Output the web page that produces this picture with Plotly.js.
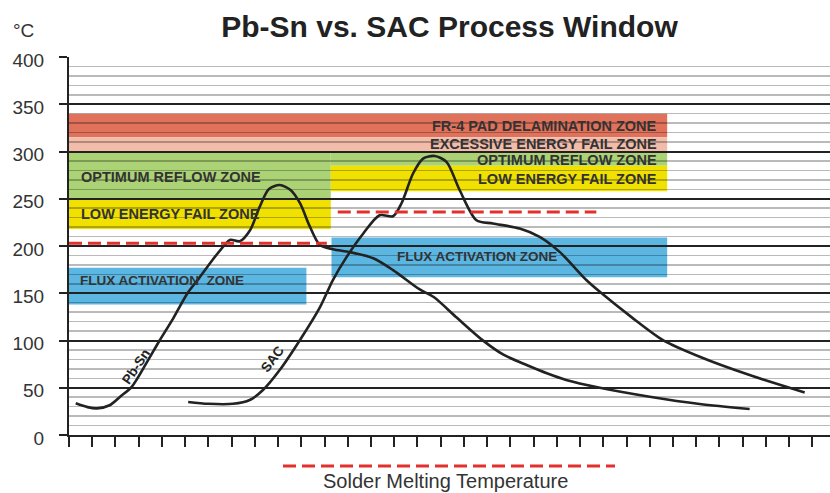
<!DOCTYPE html>
<html><head><meta charset="utf-8">
<script src="https://cdn.plot.ly/plotly-3.0.1.min.js"></script>
<style>html,body{margin:0;padding:0;background:#fff}#chart{width:830px;height:493px}</style>
</head><body><div id="chart"></div>
<script>
// ---- DATA ----
const pbsnX = [0.29, 0.8, 1.2, 1.75, 2.2, 2.7, 3.33, 3.9, 4.5, 5.1, 5.6, 6.2, 6.7, 6.95, 7.35, 7.8, 8.2, 8.6, 9.07, 9.55, 9.95, 10.36, 10.8, 11.36, 12.1, 13.1, 13.95, 15.1, 15.7, 16.7, 17.8, 18.7, 19.7, 20.6, 21.4, 22.85, 25.0, 27.15, 29.3];
const pbsnY = [33.5, 29.5, 28.2, 31.5, 40.5, 51, 76, 100, 124, 150, 166, 186, 201, 206.5, 205, 217, 241, 260, 264.5, 259, 245, 221, 201, 196.6, 193.5, 187, 174.5, 154, 146, 124, 100.4, 85, 74, 65, 58.2, 50, 40.5, 32.8, 27.5];
const sacX = [5.13, 6.0, 7.06, 7.78, 8.35, 9.07, 9.93, 10.8, 11.36, 11.94, 12.66, 13.37, 13.95, 14.31, 14.81, 15.24, 15.74, 16.25, 16.82, 17.54, 18.25, 19.4, 20.26, 21.12, 22.27, 22.85, 24.2, 25.57, 27.15, 29.3, 31.67];
const sacY = [35, 33, 33, 37, 47.6, 68.7, 100, 135, 164, 188, 213, 232.6, 231.5, 245, 276.7, 292.5, 295.3, 289, 259, 227.3, 223.8, 218.5, 209.7, 193.8, 164, 151.5, 125, 100.4, 82.8, 63.4, 45];
const curveNames = ['Pb-Sn', 'SAC'];

const meltAlloys = ['Pb-Sn', 'SAC'];
const meltTemp = [203, 236];
const meltFrom = [0, 11.57];
const meltTo = [11.1, 22.7];

const zoneNames = ['FR-4 PAD DELAMINATION ZONE', 'EXCESSIVE ENERGY FAIL ZONE', 'OPTIMUM REFLOW ZONE', 'OPTIMUM REFLOW ZONE', 'LOW ENERGY FAIL ZONE', 'LOW ENERGY FAIL ZONE', 'FLUX ACTIVATION ZONE', 'FLUX ACTIVATION ZONE'];
const zoneKind = ['delam', 'excess', 'optimum', 'optimum', 'low', 'low', 'flux', 'flux'];
const zoneFrom = [0, 0, 0, 11.27, 0, 11.27, 0, 11.3];
const zoneTo = [25.75, 25.75, 11.27, 25.75, 11.27, 25.75, 10.22, 25.75];
const zoneLow = [315, 300, 250, 285, 218, 258, 138, 167];
const zoneHigh = [340, 315, 300, 300, 250, 285, 177, 209];

const yTickVals = [0, 50, 100, 150, 200, 250, 300, 350, 400];
const yTickText = ['0', '50', '100', '150', '200', '250', '300', '350', '400'];

// ---- STYLE ----
const FONT = 'Liberation Sans, Arial, Helvetica, sans-serif';
const zoneColor = {delam: '#e0715a', excess: '#f1bcaa', optimum: '#abd375', low: '#f0e100', flux: '#5cb6e2'};
const INK = '#222';
const TXT = '#333';

// plot geometry (pixels) for placing outside-of-plot items
const W = 830, H = 493, L = 69, R = 0, T = 57, B = 58;
const pw = W - L - R, ph = H - T - B;
const px2paperX = p => (p - L) / pw;
const px2paperY = p => (H - B - p) / ph;

const traces = [];
traces.push({x: pbsnX, y: pbsnY, name: curveNames[0], type: 'scatter', mode: 'lines',
  line: {color: INK, width: 2.6, shape: 'spline', smoothing: 0.8}, hoverinfo: 'skip'});
traces.push({x: sacX, y: sacY, name: curveNames[1], type: 'scatter', mode: 'lines',
  line: {color: INK, width: 2.6, shape: 'spline', smoothing: 0.8}, hoverinfo: 'skip'});
meltAlloys.forEach((a, i) => {
  traces.push({x: [meltFrom[i], meltTo[i]], y: [meltTemp[i], meltTemp[i]], name: a + ' melting',
    type: 'scatter', mode: 'lines', line: {color: '#e2302d', width: 3, dash: '13px,6px'}, hoverinfo: 'skip'});
});

const shapes = zoneNames.map((n, i) => ({
  type: 'rect', xref: 'x', yref: 'y', x0: zoneFrom[i], x1: zoneTo[i], y0: zoneLow[i], y1: zoneHigh[i],
  fillcolor: zoneColor[zoneKind[i]], line: {width: 0}, layer: 'below'
}));
// legend-like dashed sample above the x title
shapes.push({type: 'line', xref: 'paper', yref: 'paper', x0: px2paperX(283), x1: px2paperX(615),
  y0: px2paperY(466), y1: px2paperY(466), line: {color: '#e2302d', width: 3, dash: '13px,6px'}});

const lab = (text, x, y, xanchor, size) => ({text: text, x: x, y: y, xref: 'x', yref: 'y', xanchor: xanchor, yanchor: 'middle',
  showarrow: false, font: {family: FONT, size: size || 14.5, color: TXT, weight: 'bold'}});
const annotations = [
  lab(zoneNames[0], 25.39, 327, 'right'),
  lab(zoneNames[1], 25.39, 308.4, 'right'),
  lab(zoneNames[3], 25.39, 290.8, 'right'),
  lab(zoneNames[5], 25.39, 270.7, 'right'),
  lab(zoneNames[7], 17.55, 188.5, 'center', 13.5),
  lab(zoneNames[2], 0.42, 272.5, 'left'),
  lab(zoneNames[4], 0.42, 233.4, 'left'),
  lab('FLUX ACTIVATION\u00a0\u00a0ZONE', 0.4, 163.2, 'left', 13.5),
  {text: curveNames[0], x: 2.9, y: 72, xref: 'x', yref: 'y', showarrow: false, textangle: -56,
    font: {family: FONT, size: 13.5, color: INK, weight: 'bold'}},
  {text: curveNames[1], x: 8.78, y: 81, xref: 'x', yref: 'y', showarrow: false, textangle: -53,
    font: {family: FONT, size: 13.5, color: INK, weight: 'bold'}},
  {text: '°C', xref: 'paper', yref: 'paper', x: px2paperX(11), y: px2paperY(30), xanchor: 'left', yanchor: 'middle',
    showarrow: false, font: {family: FONT, size: 19, color: TXT}},
  {text: 'Solder Melting Temperature', xref: 'paper', yref: 'paper', x: px2paperX(445), y: px2paperY(481),
    xanchor: 'center', yanchor: 'middle', showarrow: false, font: {family: FONT, size: 20, color: TXT}}
];

const layout = {
  width: W, height: H,
  margin: {l: L, r: R, t: T, b: B, pad: 0},
  paper_bgcolor: '#fff', plot_bgcolor: '#fff',
  showlegend: false,
  title: {text: '<b>Pb-Sn vs. SAC Process Window</b>', font: {family: FONT, size: 30, color: INK},
    xref: 'container', yref: 'container', x: 449.5 / W, xanchor: 'center', y: 1 - 26 / H, yanchor: 'middle'},
  xaxis: {range: [0, pw / 23.23], showgrid: false, zeroline: false, showline: true, linecolor: INK, linewidth: 2,
    ticks: 'outside', tickmode: 'linear', tick0: 0, dtick: 1, ticklen: 10, tickwidth: 2, tickcolor: INK,
    showticklabels: false, fixedrange: true},
  yaxis: {range: [0, 400], tickmode: 'array', tickvals: yTickVals, ticktext: yTickText,
    showgrid: true, gridcolor: INK, gridwidth: 2, zeroline: false, showline: true, linecolor: INK, linewidth: 2,
    ticks: 'outside', ticklen: 8, tickwidth: 2, tickcolor: INK, ticklabelstandoff: 11, ticklabelshift: 3,
    tickfont: {family: FONT, size: 19, color: TXT},
    minor: {dtick: 10, tick0: 0, showgrid: true, gridcolor: 'rgba(0,0,0,0.27)', gridwidth: 1.5, ticks: ''},
    fixedrange: true},
  shapes: shapes,
  annotations: annotations
};

Plotly.newPlot('chart', traces, layout, {staticPlot: true, displayModeBar: false});
</script>
</body></html>
